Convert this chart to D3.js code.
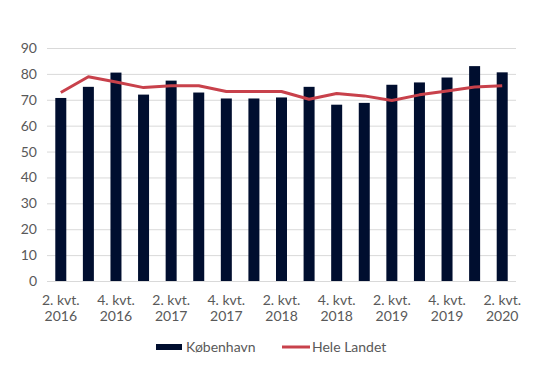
<!DOCTYPE html>
<html><head><meta charset="utf-8">
<script src="https://cdn.jsdelivr.net/npm/d3@7"></script>
<style>body{margin:0;background:#fff}svg{display:block}text{font-family:Lato,"Open Sans",sans-serif;fill:#595959}</style>
</head><body>
<svg id="c" width="543" height="369"></svg>
<script>
const categories = ["2. kvt. 2016","3. kvt. 2016","4. kvt. 2016","1. kvt. 2017","2. kvt. 2017","3. kvt. 2017","4. kvt. 2017","1. kvt. 2018","2. kvt. 2018","3. kvt. 2018","4. kvt. 2018","1. kvt. 2019","2. kvt. 2019","3. kvt. 2019","4. kvt. 2019","1. kvt. 2020","2. kvt. 2020"];
const kobenhavn = [70.7,75,80.5,72,77.4,72.8,70.5,70.5,70.9,75,68.1,68.8,75.8,76.7,78.6,83,80.6];
const heleLandet = [72.8,78.9,76.9,74.7,75.4,75.4,73.2,73.2,73.2,70.2,72.4,71.5,69.7,71.9,73.4,74.9,75.4];
const yTicks = [0,10,20,30,40,50,60,70,80,90];
const seriesNames = ["København","Hele Landet"];

const svg = d3.select("#c");
const m = {l:47, r:27, t:48, b:88};
const W = 543, H = 369;
const x = d3.scaleBand().domain(categories).range([m.l, W-m.r]).paddingInner(0.6).paddingOuter(0.3);
const xc = d3.scaleBand().domain(categories).range([m.l, W-m.r]);
const y = d3.scaleLinear().domain([0,90]).range([H-m.b, m.t]);

svg.append("g").selectAll("line").data(yTicks).join("line")
  .attr("x1", m.l).attr("x2", W-m.r)
  .attr("y1", d=>y(d)+0.5).attr("y2", d=>y(d)+0.5)
  .attr("stroke", "#d9d9d9").attr("stroke-width", 1);

const ya = svg.append("g").attr("transform", `translate(${m.l},0)`)
  .call(d3.axisLeft(y).tickValues(yTicks).tickSize(0).tickPadding(10));
ya.select(".domain").remove();
ya.selectAll("text").style("font-size","14px").style("fill","#595959").style("font-family","Lato,sans-serif");

svg.append("g").selectAll("rect").data(kobenhavn).join("rect")
  .attr("x", (d,i)=>xc(categories[i]) + xc.bandwidth()/2 - 5.5)
  .attr("width", 11)
  .attr("y", d=>y(d)).attr("height", d=>y(0)-y(d))
  .attr("fill", "#000e2f");

const line = d3.line().x((d,i)=>xc(categories[i])+xc.bandwidth()/2).y(d=>y(d));
svg.append("path").datum(heleLandet).attr("d", line)
  .attr("fill","none").attr("stroke","#c8414b").attr("stroke-width",3).attr("stroke-linejoin","round");

const xa = svg.append("g").attr("transform", `translate(0,${y(0)})`)
  .call(d3.axisBottom(xc).tickSize(0).tickFormat(""));
xa.select(".domain").remove();
xa.selectAll(".tick").each(function(d,i){
  if (i % 2) return;
  const parts = d.split(" ");
  const t = d3.select(this).append("text").attr("text-anchor","middle")
    .style("font-size","14px").style("fill","#595959").style("font-family","Lato,sans-serif");
  t.append("tspan").attr("x",0).attr("y",24).text(parts.slice(0,2).join(" "));
  t.append("tspan").attr("x",0).attr("y",40).text(parts[2]);
});

const lg = svg.append("g");
lg.append("rect").attr("x",156).attr("y",344).attr("width",26).attr("height",6).attr("fill","#000e2f");
lg.append("text").attr("x",186).attr("y",352).style("font-size","14px").text(seriesNames[0]);
lg.append("line").attr("x1",282).attr("x2",310).attr("y1",347).attr("y2",347).attr("stroke","#c8414b").attr("stroke-width",3);
lg.append("text").attr("x",312).attr("y",352).style("font-size","14px").text(seriesNames[1]);
</script>
</body></html>
